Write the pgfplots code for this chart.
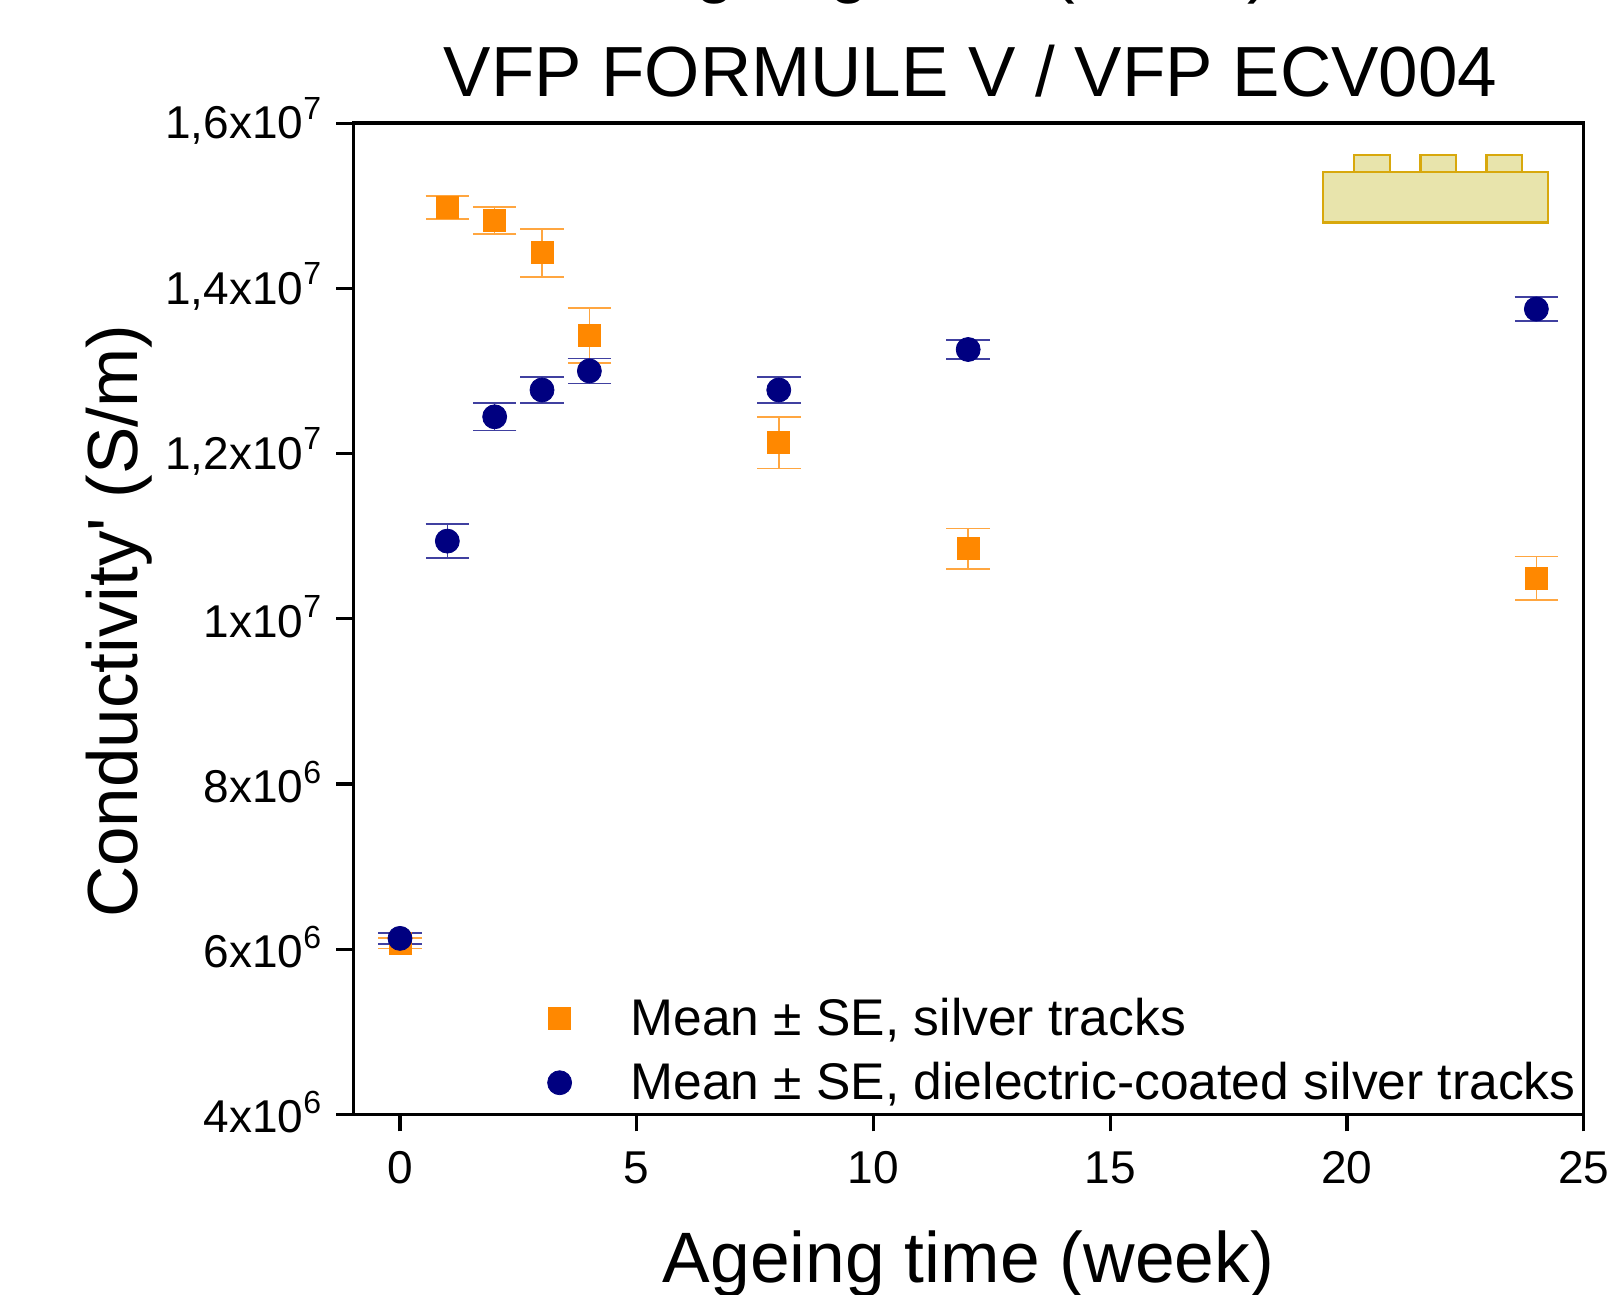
\documentclass[border=0pt]{standalone}
\usepackage{pgfplots}
\pgfplotsset{compat=1.18}
\usepackage{fontspec}
\setmainfont{Liberation Sans}
\definecolor{or}{HTML}{FF8800}
\definecolor{nv}{HTML}{000080}
\definecolor{insf}{HTML}{E8E4AC}
\definecolor{insd}{HTML}{D8A80C}
\newcommand{\sq}[1]{\raisebox{0.42em}{\fontsize{16}{16}\selectfont #1}}
\begin{document}
\begin{tikzpicture}
\clip (-176.65pt,-90.35pt) rectangle (635.35pt,557.15pt);
\begin{axis}[
  scale only axis, width=615.2pt, height=495.55pt,
  xmin=-0.986, xmax=25, ymin=4e6, ymax=1.6e7,
  axis line style={line width=1.7pt},
  every tick/.style={black,line width=1.6pt},
  tick align=outside, tick pos=left, major tick length=8.5pt,
  xtick={0,5,10,15,20,25},
  ytick={4e6,6e6,8e6,1e7,1.2e7,1.4e7,1.6e7},
  yticklabels={4x10\sq{6},6x10\sq{6},8x10\sq{6},1x10\sq{7},{1,2x10\sq{7}},{1,4x10\sq{7}},{1,6x10\sq{7}}},
  ticklabel style={font=\fontsize{23}{26}\selectfont},
  /pgf/number format/assume math mode=true,
  xticklabel style={yshift=-6.5pt},
  yticklabel style={xshift=-4pt,yshift=1pt},
  scaled y ticks=false,
  xlabel={Ageing time (week)},
  ylabel={Conductivity\textquotesingle\ (S/m)},
  xlabel style={font=\fontsize{35.7}{38}\selectfont,at={(axis description cs:0.5,-0.1702)},anchor=base},
  ylabel style={font=\fontsize{35.5}{38}\selectfont,at={(axis description cs:-0.1752,0.4975)},anchor=base},
  title={VFP FORMULE V / VFP ECV004},
  title style={font=\fontsize{35.5}{40}\selectfont,yshift=-5.7pt,at={(axis description cs:0.5016,1.0268)},anchor=base},
  legend cell align=left,
  legend style={draw=none,fill=none,font=\fontsize{25.77}{30}\selectfont,
    at={(rel axis cs:1.0018,0.003)},anchor=south east,row sep=8pt},
  legend image code/.code={\draw[#1,only marks] plot coordinates {(0.3cm,0cm)};\path[draw=none] (0.3cm,0cm) -- ++(33.5pt,0pt);},
  clip=false,
]
\addplot+[only marks,mark=square*,mark size=5.5pt,
  mark options={draw=none,fill=or},
  color=or,
  error bars/.cd,y dir=both,y explicit,error bar style={line width=0.8pt,color=or!75!white},error mark=-,
  error mark options={rotate=90,mark size=10.9pt,line width=0.8pt,color=or!75!white}]
  table[x=x,y=y,y error=e]{
x y e
0 6.07e6 0.0625e6
1 14.98e6 0.14e6
2 14.82e6 0.163e6
3 14.43e6 0.29e6
4 13.43e6 0.335e6
8 12.13e6 0.313e6
12 10.85e6 0.245e6
24 10.49e6 0.263e6
};
\addlegendentry{Mean ± SE, silver tracks}
\addplot+[only marks,mark=*,mark size=6pt,
  mark options={draw=none,fill=nv},
  color=nv,
  error bars/.cd,y dir=both,y explicit,error bar style={line width=0.8pt,color=nv!75!white},error mark=-,
  error mark options={rotate=90,mark size=10.9pt,line width=0.8pt,color=nv!75!white}]
  table[x=x,y=y,y error=e]{
x y e
0 6.13e6 0.065e6
1 10.94e6 0.206e6
2 12.445e6 0.165e6
3 12.77e6 0.16e6
4 13.0e6 0.15e6
8 12.77e6 0.157e6
12 13.26e6 0.118e6
24 13.75e6 0.144e6
};
\addlegendentry{Mean ± SE, dielectric-coated silver tracks}
\end{axis}
\begin{scope}[x=0.5pt,y=-0.5pt,shift={(-176.65pt,557.15pt)}]
\filldraw[draw=insd,fill=insf,line width=1.3pt] (1354,155) rectangle (1390,172);
\filldraw[draw=insd,fill=insf,line width=1.3pt] (1420.5,155) rectangle (1456,172);
\filldraw[draw=insd,fill=insf,line width=1.3pt] (1486.7,155) rectangle (1522,172);
\filldraw[draw=insd,fill=insf,line width=1.3pt] (1323,172) rectangle (1548,222.7);
\node[anchor=base west,inner sep=0pt,font=\fontsize{35.5}{40}\selectfont] at (648,-10) {Ageing\hspace{91pt}(\hspace{86pt})};
\end{scope}
\end{tikzpicture}
\end{document}
